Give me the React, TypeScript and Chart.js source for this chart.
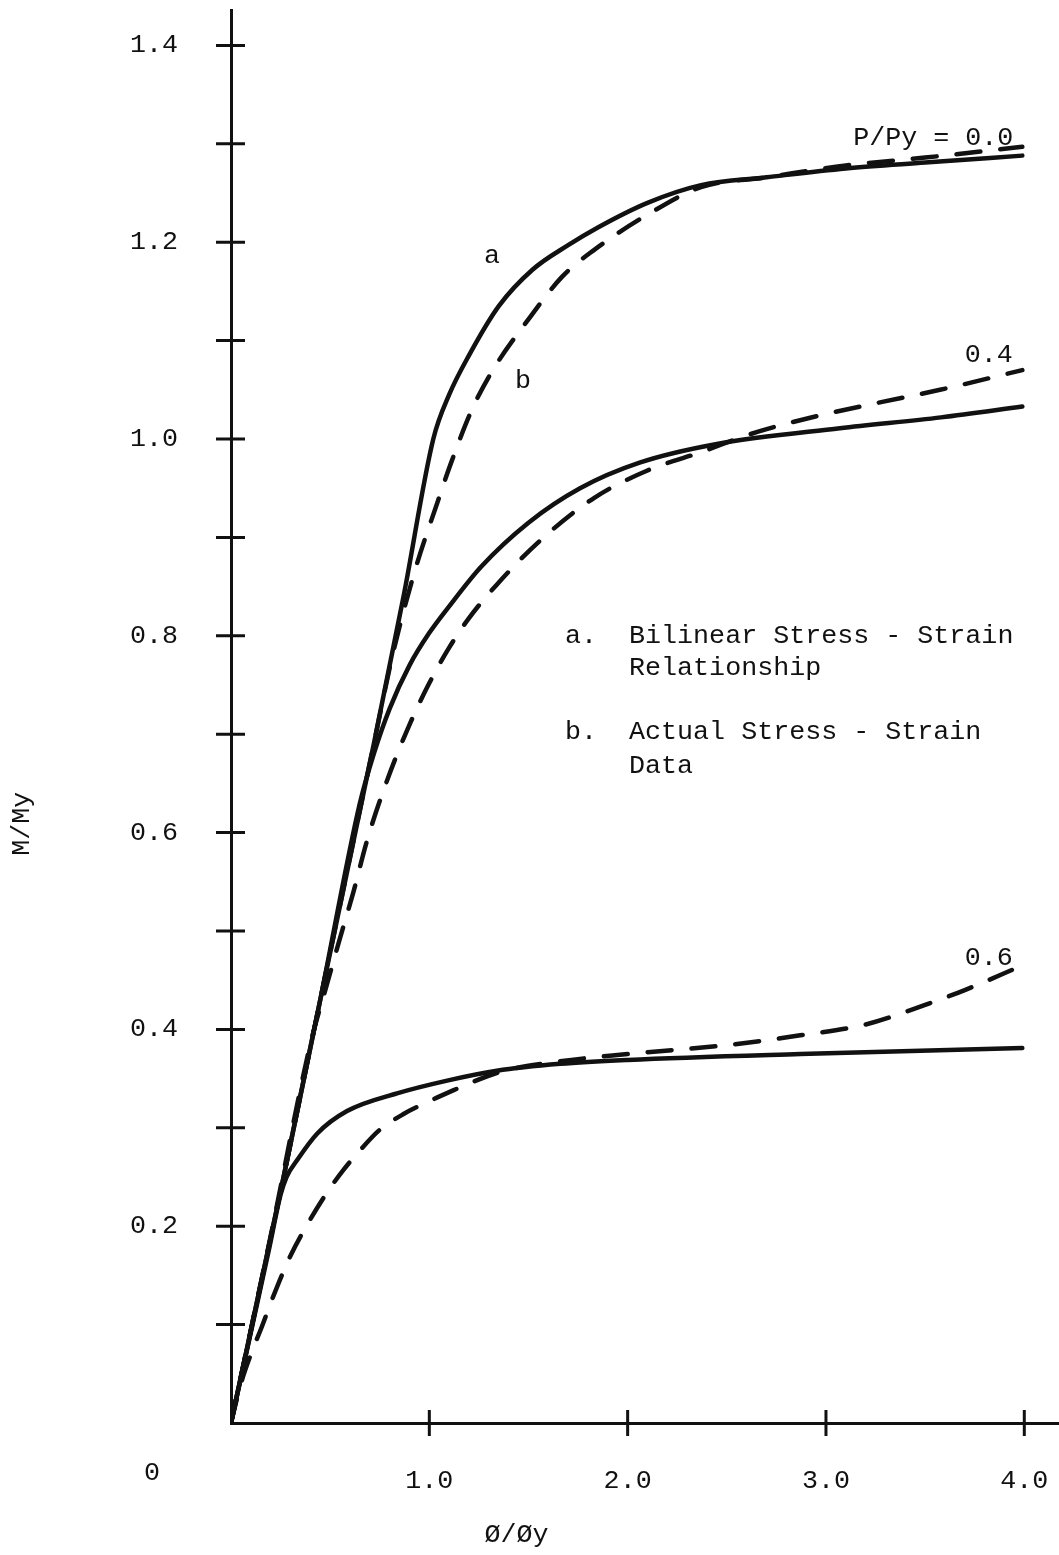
import React, { useEffect, useRef } from "react";
import { Chart, registerables } from "chart.js";

Chart.register(...registerables);

// ---- data (phi/phi_y vs M/My) ----
// P/Py = 0.0
const a00X = [0, 0.26, 0.45, 0.72, 0.87, 1.02, 1.1, 1.2, 1.35, 1.52, 1.7, 1.85, 2.1, 2.37, 2.7, 3.1, 3.5, 3.99];
const a00Y = [0, 0.245, 0.43, 0.69, 0.84, 1.0, 1.045, 1.085, 1.135, 1.172, 1.197, 1.215, 1.24, 1.258, 1.266, 1.275, 1.281, 1.288];
const b00X = [0, 0.26, 0.45, 0.72, 0.82, 0.93, 1.04, 1.11, 1.215, 1.32, 1.49, 1.67, 1.83, 2.1, 2.37, 2.7, 3.1, 3.5, 3.99];
const b00Y = [0, 0.245, 0.43, 0.69, 0.785, 0.868, 0.935, 0.976, 1.03, 1.07, 1.119, 1.165, 1.192, 1.228, 1.256, 1.266, 1.278, 1.286, 1.297];
// P/Py = 0.4
const a04X = [0, 0.26, 0.45, 0.65, 0.72, 0.8, 0.9, 1.0, 1.1, 1.26, 1.5, 1.76, 2.06, 2.45, 3.07, 3.58, 3.99];
const a04Y = [0, 0.245, 0.43, 0.63, 0.68, 0.726, 0.77, 0.803, 0.83, 0.87, 0.915, 0.95, 0.976, 0.995, 1.011, 1.022, 1.033];
const b04X = [0, 0.2, 0.4, 0.484, 0.55, 0.615, 0.686, 0.787, 0.903, 1.0, 1.1, 1.2, 1.34, 1.56, 1.83, 2.1, 2.36, 2.65, 2.97, 3.29, 3.575, 3.99];
const b04Y = [0, 0.19, 0.385, 0.446, 0.493, 0.538, 0.592, 0.653, 0.711, 0.752, 0.788, 0.818, 0.852, 0.897, 0.94, 0.968, 0.986, 1.007, 1.024, 1.038, 1.05, 1.07];
// P/Py = 0.6
const a06X = [0, 0.19, 0.25, 0.28, 0.333, 0.434, 0.585, 0.837, 1.09, 1.34, 1.66, 2.0, 2.87, 3.99];
const a06Y = [0, 0.175, 0.232, 0.25, 0.267, 0.294, 0.317, 0.335, 0.348, 0.358, 0.365, 0.369, 0.375, 0.381];
const b06X = [0, 0.05, 0.11, 0.15, 0.21, 0.3, 0.4, 0.48, 0.57, 0.65, 0.75, 0.87, 1.0, 1.12, 1.2, 1.36, 1.6, 2.0, 2.5, 2.87, 3.2, 3.5, 3.7, 3.99];
const b06Y = [0, 0.04, 0.075, 0.095, 0.127, 0.17, 0.207, 0.233, 0.258, 0.277, 0.298, 0.314, 0.327, 0.338, 0.345, 0.357, 0.366, 0.375, 0.384, 0.394, 0.405, 0.425, 0.44, 0.465];

// ---- ticks ----
const xTickValues = [1, 2, 3, 4];
const xTickLabels = ["1.0", "2.0", "3.0", "4.0"];
const yTickValues = [0.1, 0.2, 0.3, 0.4, 0.5, 0.6, 0.7, 0.8, 0.9, 1.0, 1.1, 1.2, 1.3, 1.4];
const yTickLabels = ["", "0.2", "", "0.4", "", "0.6", "", "0.8", "", "1.0", "", "1.2", "", "1.4"];

// ---- annotations (data coordinates) ----
const noteTexts = ["P/Py = 0.0", "0.4", "0.6", "a", "b"];
const noteX = [3.137, 3.7, 3.7, 1.276, 1.432];
const noteY = [1.306, 1.085, 0.473, 1.186, 1.059];
const legendLines = ["a.  Bilinear Stress - Strain", "    Relationship", "b.  Actual Stress - Strain", "    Data"];
const legendX = 1.684;
const legendY = [0.8, 0.767, 0.702, 0.668];

const FONT = '"Liberation Mono", "DejaVu Sans Mono", monospace';
const INK = "#111";

const pts = (xs: number[], ys: number[]) => xs.map((x, i) => ({ x, y: ys[i] }));

const overlay = {
  id: "overlay",
  afterDraw(chart: any) {
    const ctx = chart.ctx;
    const xs = chart.scales.x;
    const ys = chart.scales.y;
    const x0 = xs.getPixelForValue(0);
    const y0 = ys.getPixelForValue(0);
    ctx.save();
    ctx.strokeStyle = INK;
    ctx.lineWidth = 3;
    ctx.beginPath();
    yTickValues.forEach((v) => {
      const py = ys.getPixelForValue(v);
      ctx.moveTo(x0 - 15, py);
      ctx.lineTo(x0 + 14, py);
    });
    xTickValues.forEach((v) => {
      const px = xs.getPixelForValue(v);
      ctx.moveTo(px, y0 - 13);
      ctx.lineTo(px, y0 + 13);
    });
    ctx.stroke();

    ctx.fillStyle = INK;
    ctx.font = `26.7px ${FONT}`;
    ctx.textBaseline = "middle";
    ctx.textAlign = "left";
    noteTexts.forEach((t, i) => {
      ctx.fillText(t, xs.getPixelForValue(noteX[i]), ys.getPixelForValue(noteY[i]));
    });
    legendLines.forEach((t, i) => {
      ctx.fillText(t, xs.getPixelForValue(legendX), ys.getPixelForValue(legendY[i]));
    });
    // origin label
    ctx.textAlign = "center";
    ctx.fillText("0", x0 - 79, y0 + 50);
    // axis titles
    ctx.fillText("\u00D8/\u00D8y", xs.getPixelForValue(1.44), y0 + 112);
    ctx.save();
    ctx.translate(22, ys.getPixelForValue(0.609));
    ctx.rotate(-Math.PI / 2);
    ctx.fillText("M/My", 0, 0);
    ctx.restore();
    ctx.restore();
  },
};

export default function App() {
  const ref = useRef<HTMLCanvasElement | null>(null);
  useEffect(() => {
    document.body.style.margin = "0";
    const canvas = ref.current;
    if (!canvas) return;
    const solid = (label: string, xs: number[], ys: number[]) => ({
      label,
      data: pts(xs, ys),
      borderColor: INK,
      borderWidth: 4.5,
      pointRadius: 0,
      fill: false,
      cubicInterpolationMode: "monotone" as const,
      borderCapStyle: "round" as const,
    });
    const dashed = (label: string, xs: number[], ys: number[]) => ({
      ...solid(label, xs, ys),
      borderDash: [24, 20],
    });
    const chart = new Chart(canvas, {
      type: "line",
      data: {
        datasets: [
          solid("a P/Py=0.0", a00X, a00Y),
          dashed("b P/Py=0.0", b00X, b00Y),
          solid("a P/Py=0.4", a04X, a04Y),
          dashed("b P/Py=0.4", b04X, b04Y),
          solid("a P/Py=0.6", a06X, a06Y),
          dashed("b P/Py=0.6", b06X, b06Y),
        ],
      },
      options: {
        animation: false,
        responsive: false,
        devicePixelRatio: 1,
        layout: { padding: { top: 10, right: 0, left: 0, bottom: 0 } },
        plugins: { legend: { display: false }, tooltip: { enabled: false } },
        scales: {
          x: {
            type: "linear",
            min: 0,
            max: 4.175,
            grid: { display: false },
            border: { display: true, color: INK, width: 3 },
            afterBuildTicks: (s: any) => {
              s.ticks = xTickValues.map((v) => ({ value: v }));
            },
            afterFit: (s: any) => {
              s.height = 132;
              s.paddingLeft = 0;
              s.paddingRight = 0;
              s.paddingTop = 0;
              s.paddingBottom = 0;
            },
            ticks: {
              autoSkip: false,
              maxRotation: 0,
              padding: 34,
              color: INK,
              font: { family: FONT, size: 26.7 },
              callback: (_v: any, i: number) => xTickLabels[i],
            },
          },
          y: {
            type: "linear",
            min: 0,
            max: 1.436,
            grid: { display: false },
            border: { display: true, color: INK, width: 3 },
            afterBuildTicks: (s: any) => {
              s.ticks = yTickValues.map((v) => ({ value: v }));
            },
            afterFit: (s: any) => {
              s.width = 231;
              s.paddingLeft = 0;
              s.paddingRight = 0;
              s.paddingTop = 0;
              s.paddingBottom = 0;
            },
            ticks: {
              autoSkip: false,
              padding: 45,
              color: INK,
              font: { family: FONT, size: 26.7 },
              callback: (_v: any, i: number) => yTickLabels[i],
            },
          },
        },
      },
      plugins: [overlay],
    });
    return () => chart.destroy();
  }, []);
  return (
    <div style={{ width: 1059, height: 1555, background: "#fff" }}>
      <canvas ref={ref} width={1059} height={1555} style={{ display: "block", width: 1059, height: 1555 }} />
    </div>
  );
}
